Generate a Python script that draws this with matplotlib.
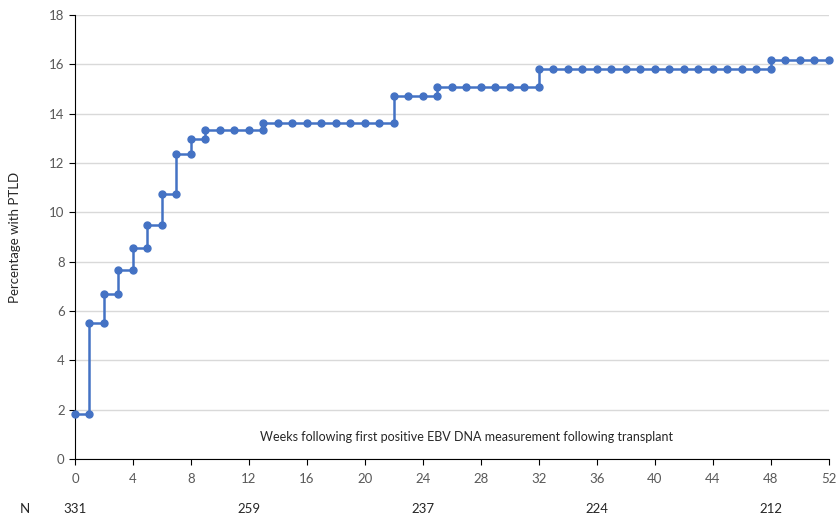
import numpy as np
import matplotlib
matplotlib.use("Agg")
import matplotlib.pyplot as plt
from matplotlib import transforms

# Cumulative percentage with PTLD at each week (level after any step at that week)
weeks = list(range(0, 53))
pct = [1.82, 5.50, 6.70, 7.67, 8.57, 9.50, 10.76, 12.37, 12.98, 13.33,
       13.33, 13.33, 13.33, 13.64, 13.64, 13.64, 13.64, 13.64, 13.64, 13.64,
       13.64, 13.64, 14.73, 14.73, 14.73, 15.07, 15.07, 15.07, 15.07, 15.07,
       15.07, 15.07, 15.80, 15.80, 15.80, 15.80, 15.80, 15.80, 15.80, 15.80,
       15.80, 15.80, 15.80, 15.80, 15.80, 15.80, 15.80, 15.80, 16.18, 16.18,
       16.18, 16.18, 16.18]

# numbers at risk
n_weeks = [0, 12, 24, 36, 48]
n_at_risk = ["331", "259", "237", "224", "212"]

x_ticks = list(range(0, 53, 4))
y_ticks = list(range(0, 19, 2))

line_col = "#4472C4"
txt_col = "#595959"
plt.rcParams['font.family'] = ['Lato', 'DejaVu Sans']

# Build step vertices: at a change, a point at old level then one at new level
xs, ys = [weeks[0]], [pct[0]]
for i in range(1, len(weeks)):
    if pct[i] != pct[i - 1]:
        xs.append(weeks[i])
        ys.append(pct[i - 1])
    xs.append(weeks[i])
    ys.append(pct[i])

fig = plt.figure(figsize=(8.36, 5.21), dpi=100)
ax = fig.add_axes([0.0897, 0.119, 0.9019, 0.852])

ax.plot(xs, ys, color=line_col, lw=1.8, marker="o", ms=5, clip_on=False, zorder=3)

ax.set_xlim(0, 52)
ax.set_ylim(0, 18)
ax.set_xticks(x_ticks)
ax.set_yticks(y_ticks)
ax.grid(axis="y", color="#d9d9d9", lw=1)
ax.set_axisbelow(True)
for s in ["top", "right"]:
    ax.spines[s].set_visible(False)
ax.spines["left"].set_color("black")
ax.spines["bottom"].set_color("black")
ax.tick_params(axis="both", colors="black", labelcolor=txt_col, labelsize=9.5, length=4)
ax.tick_params(axis="x", pad=6)

ax.text(27, 0.9, "Weeks following first positive EBV DNA measurement following transplant",
        ha="center", va="center", fontsize=9, color="#262626")

fig.text(0.018, 0.545, "Percentage with PTLD", rotation=90, ha="center", va="center",
         fontsize=9.5, color="#262626")

trans = transforms.blended_transform_factory(ax.transData, fig.transFigure)
for w, n in zip(n_weeks, n_at_risk):
    ax.text(w, 0.023, n, transform=trans, ha="center", va="center", fontsize=9.5, color="#262626")
fig.text(0.03, 0.023, "N", ha="center", va="center", fontsize=9.5, color="#262626")

fig.savefig("out.png", dpi=100)
